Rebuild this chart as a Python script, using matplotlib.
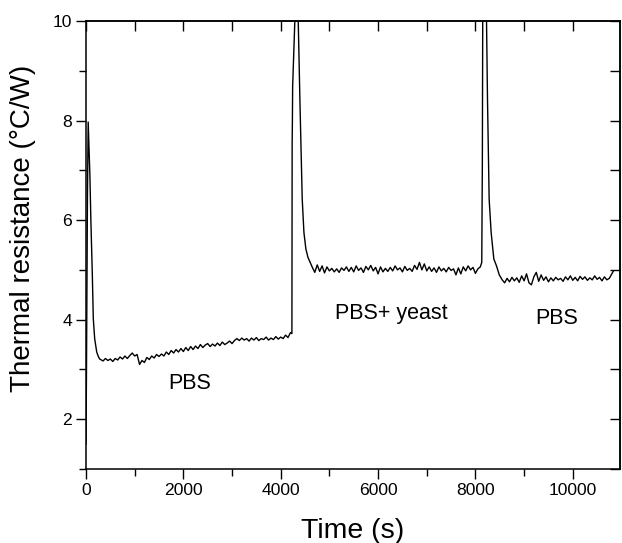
# -*- coding: utf-8 -*-
"""Thermal resistance vs time: PBS -> PBS + yeast -> PBS."""
import matplotlib
matplotlib.use("Agg")
import matplotlib.pyplot as plt
from matplotlib.ticker import MultipleLocator

plt.rcParams["font.family"] = ["Liberation Sans", "DejaVu Sans"]

# start-up spike and first PBS stage
TIME_A = [0, 10, 30, 45, 60, 80, 100, 130, 150, 178, 220, 253, 280]
R_A = [1.5, 3.0, 6.5, 7.97, 7.5, 6.9, 6.0, 4.9, 4.02, 3.62, 3.35, 3.26, 3.21]

TIME_PBS1 = [
    300, 350, 400, 450, 500, 550, 600, 650, 700, 750, 800, 850, 900, 950,
    1000, 1050, 1100, 1150, 1200, 1250, 1300, 1350, 1400, 1450, 1500, 1550,
    1600, 1650, 1700, 1750, 1800, 1850, 1900, 1950, 2000, 2050, 2100, 2150,
    2200, 2250, 2300, 2350, 2400, 2450, 2500, 2550, 2600, 2650, 2700, 2750,
    2800, 2850, 2900, 2950, 3000, 3050, 3100, 3150, 3200, 3250, 3300, 3350,
    3400, 3450, 3500, 3550, 3600, 3650, 3700, 3750, 3800, 3850, 3900, 3950,
    4000, 4050, 4100, 4150, 4200,
]
R_PBS1 = [
    3.20, 3.17, 3.22, 3.18, 3.21, 3.16, 3.22, 3.19, 3.25, 3.21, 3.27, 3.22, 3.28, 3.33,
    3.27, 3.30, 3.10, 3.18, 3.14, 3.24, 3.20, 3.27, 3.23, 3.30, 3.26, 3.31,
    3.27, 3.35, 3.30, 3.38, 3.33, 3.40, 3.35, 3.42, 3.36, 3.44, 3.38, 3.46,
    3.40, 3.47, 3.42, 3.50, 3.44, 3.49, 3.52, 3.46, 3.51, 3.47, 3.53, 3.48,
    3.55, 3.50, 3.53, 3.57, 3.52, 3.58, 3.62, 3.58, 3.63, 3.59, 3.62, 3.57,
    3.63, 3.59, 3.64, 3.58, 3.62, 3.60, 3.65, 3.59, 3.63, 3.60, 3.66, 3.61,
    3.65, 3.62, 3.69, 3.64, 3.74,
]

# yeast injection spike (goes off scale)
TIME_B = [4230, 4235, 4240, 4245, 4290, 4320, 4360, 4394, 4442, 4477, 4517, 4560, 4600]
R_B = [3.72, 7.54, 8.0, 8.68, 10.0, 10.6, 10.0, 8.42, 6.42, 5.75, 5.42, 5.25, 5.16]

TIME_YEAST = [
    4650, 4700, 4750, 4800, 4850, 4900, 4950, 5000, 5050, 5100, 5150, 5200,
    5250, 5300, 5350, 5400, 5450, 5500, 5550, 5600, 5650, 5700, 5750, 5800,
    5850, 5900, 5950, 6000, 6050, 6100, 6150, 6200, 6250, 6300, 6350, 6400,
    6450, 6500, 6550, 6600, 6650, 6700, 6750, 6800, 6850, 6900, 6950, 7000,
    7050, 7100, 7150, 7200, 7250, 7300, 7350, 7400, 7450, 7500, 7550, 7600,
    7650, 7700, 7750, 7800, 7850, 7900, 7950, 8000, 8050, 8100,
]
R_YEAST = [
    5.05, 4.95, 5.10, 4.97, 5.08, 4.94, 5.06, 4.98, 5.03, 4.96, 5.02, 4.95,
    5.04, 4.99, 5.06, 4.97, 5.05, 4.96, 5.08, 4.99, 5.04, 4.95, 5.07, 5.00,
    5.09, 4.98, 5.05, 4.92, 5.06, 4.96, 5.03, 4.97, 5.05, 4.98, 5.08, 5.00,
    5.04, 4.96, 5.07, 4.99, 5.03, 4.97, 5.09, 5.01, 5.15, 5.00, 5.12, 4.98,
    5.06, 4.97, 5.04, 4.95, 5.06, 4.98, 5.03, 4.96, 5.05, 4.99, 5.02, 4.90,
    5.04, 4.92, 5.06, 4.98, 5.08, 5.00, 5.05, 4.93, 5.02, 5.06,
]

# PBS rinse spike (goes off scale)
TIME_C = [8130, 8140, 8142, 8150, 8185, 8228, 8248, 8282, 8323, 8378, 8433, 8490]
R_C = [5.15, 6.9, 7.1, 10.0, 10.7, 10.0, 8.42, 6.42, 5.75, 5.22, 5.08, 4.90]

TIME_PBS2 = [
    8550, 8600, 8650, 8700, 8750, 8800, 8850, 8900, 8950, 9000, 9050, 9100,
    9150, 9200, 9250, 9300, 9350, 9400, 9450, 9500, 9550, 9600, 9650, 9700,
    9750, 9800, 9850, 9900, 9950, 10000, 10050, 10100, 10150, 10200, 10250,
    10300, 10350, 10400, 10450, 10500, 10550, 10600, 10650, 10700, 10750, 10830,
]
R_PBS2 = [
    4.80, 4.74, 4.83, 4.76, 4.85, 4.78, 4.84, 4.75, 4.88, 4.78, 4.92, 4.74,
    4.70, 4.86, 4.95, 4.77, 4.90, 4.79, 4.86, 4.76, 4.84, 4.78, 4.85, 4.80,
    4.83, 4.77, 4.86, 4.80, 4.88, 4.79, 4.85, 4.78, 4.87, 4.81, 4.86,
    4.79, 4.84, 4.80, 4.88, 4.81, 4.85, 4.78, 4.86, 4.80, 4.83, 4.97,
]

# annotations: (text, time, value)
LABELS = [
    ("PBS", 2135, 2.72),
    ("PBS+ yeast", 6280, 4.12),
    ("PBS", 9665, 4.02),
]


def main() -> None:
    fig = plt.figure(figsize=(6.22, 5.43), dpi=100)
    ax = fig.add_axes([86 / 622, 1 - 469 / 543, 534 / 622, 448 / 543])

    t = TIME_A + TIME_PBS1 + TIME_B + TIME_YEAST + TIME_C + TIME_PBS2
    r = R_A + R_PBS1 + R_B + R_YEAST + R_C + R_PBS2
    ax.plot(t, r, color="black", lw=1.0, solid_joinstyle="round")

    ax.set_xlim(0, 10970)
    ax.set_ylim(1, 10)

    ax.xaxis.set_major_locator(MultipleLocator(2000))
    ax.xaxis.set_minor_locator(MultipleLocator(1000))
    ax.yaxis.set_major_locator(MultipleLocator(2))
    ax.yaxis.set_minor_locator(MultipleLocator(1))
    ax.tick_params(which="both", direction="out", width=1.0, labelsize=12.6, pad=3)
    ax.tick_params(which="major", length=7)
    ax.tick_params(which="minor", length=5)

    # mirrored ticks on top / right, pointing inward, no labels
    top = ax.secondary_xaxis("top")
    top.xaxis.set_major_locator(MultipleLocator(1000))
    top.tick_params(direction="in", length=7, width=1.0, labeltop=False)
    right = ax.secondary_yaxis("right")
    right.yaxis.set_major_locator(MultipleLocator(1))
    right.tick_params(direction="in", length=7, width=1.0, labelright=False)

    for sp in list(ax.spines.values()) + [top.spines["top"], right.spines["right"]]:
        sp.set_linewidth(1.1)

    ax.set_xlabel("Time (s)", fontsize=20.5, va="center")
    ax.xaxis.set_label_coords(0.5, -0.138)
    ax.set_ylabel("Thermal resistance (\u00b0C/W)", fontsize=20, va="center")
    ax.yaxis.set_label_coords(-0.118, 0.538)

    for text, tx, ty in LABELS:
        ax.text(tx, ty, text, ha="center", va="center", fontsize=15.5)

    fig.savefig("out.png", dpi=100, facecolor="white")
    plt.close(fig)


if __name__ == "__main__":
    main()
